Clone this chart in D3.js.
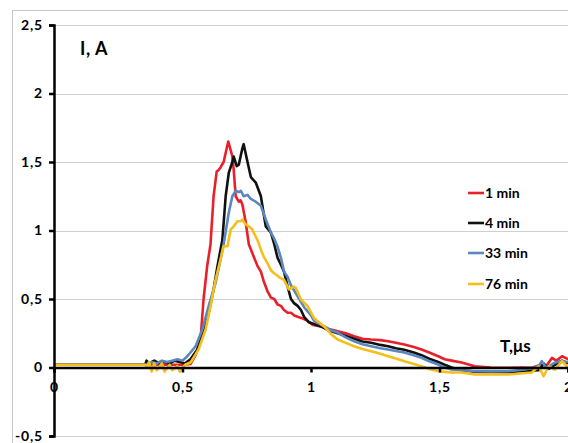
<!DOCTYPE html>
<html><head><meta charset="utf-8">
<script src="https://cdn.jsdelivr.net/npm/d3@7"></script>
<style>
html,body{margin:0;padding:0;background:#fff;}
svg{display:block;}
text{font-family:Lato,"Open Sans",sans-serif;font-weight:700;fill:#000;}
</style></head>
<body>
<svg id="c" width="568" height="443"></svg>
<script>
const xTicks = [0, 0.5, 1, 1.5, 2];
const xTickLabels = ["0", "0,5", "1", "1,5", "2"];
const yTicks = [-0.5, 0, 0.5, 1, 1.5, 2, 2.5];
const yTickLabels = ["-0,5", "0", "0,5", "1", "1,5", "2", "2,5"];
const seriesNames = ["1 min", "4 min", "33 min", "76 min"];
const seriesColors = ["#e8202a", "#111111", "#5b87be", "#f5bf1a"];

const red = [[0,0.02],[0.2,0.02],[0.4,0.02],[0.5,0.02],[0.531,0.025],[0.551,0.09],[0.570,0.20],[0.582,0.50],[0.596,0.74],[0.609,0.90],[0.621,1.25],[0.633,1.43],[0.640,1.44],[0.648,1.46],[0.660,1.50],[0.678,1.65],[0.694,1.54],[0.699,1.45],[0.707,1.25],[0.719,1.21],[0.726,1.22],[0.733,1.19],[0.746,1.06],[0.758,0.90],[0.775,0.82],[0.792,0.74],[0.805,0.70],[0.816,0.63],[0.830,0.56],[0.844,0.51],[0.857,0.50],[0.870,0.46],[0.883,0.45],[0.895,0.42],[0.909,0.40],[0.922,0.40],[0.935,0.38],[0.948,0.37],[0.965,0.36],[0.987,0.34],[1.007,0.31],[1.039,0.30],[1.07,0.28],[1.104,0.265],[1.135,0.25],[1.168,0.228],[1.20,0.21],[1.234,0.204],[1.27,0.20],[1.300,0.192],[1.33,0.18],[1.363,0.168],[1.40,0.15],[1.430,0.131],[1.46,0.11],[1.495,0.082],[1.52,0.06],[1.547,0.05],[1.586,0.036],[1.637,0.009],[1.70,0.0],[1.768,-0.002],[1.82,0.0],[1.859,-0.002],[1.898,0.022],[1.915,0.01],[1.9375,0.07],[1.955,0.05],[1.977,0.082],[2.004,0.058]];

const black = [[0,0.02],[0.2,0.02],[0.355,0.02],[0.36,0.05],[0.37,0.03],[0.39,0.05],[0.41,0.03],[0.43,0.04],[0.45,0.03],[0.47,0.05],[0.49,0.04],[0.51,0.03],[0.531,0.06],[0.557,0.13],[0.582,0.255],[0.602,0.40],[0.621,0.57],[0.636,0.74],[0.655,0.93],[0.668,1.25],[0.680,1.42],[0.694,1.50],[0.699,1.54],[0.711,1.47],[0.719,1.48],[0.733,1.60],[0.738,1.63],[0.753,1.50],[0.766,1.39],[0.785,1.35],[0.805,1.25],[0.816,1.12],[0.824,1.03],[0.844,0.985],[0.857,0.90],[0.870,0.80],[0.883,0.75],[0.895,0.70],[0.909,0.59],[0.922,0.50],[0.934,0.47],[0.948,0.45],[0.961,0.42],[0.973,0.37],[0.992,0.33],[1.039,0.30],[1.07,0.27],[1.104,0.25],[1.135,0.23],[1.168,0.21],[1.20,0.19],[1.234,0.18],[1.27,0.165],[1.300,0.155],[1.33,0.14],[1.363,0.13],[1.40,0.11],[1.430,0.09],[1.46,0.065],[1.495,0.04],[1.52,0.02],[1.547,0.0],[1.586,-0.02],[1.637,-0.03],[1.70,-0.035],[1.768,-0.035],[1.832,-0.025],[1.886,-0.02],[1.905,0.03],[1.925,-0.01],[1.949,0.02],[1.977,0.05],[2.0,0.03]];

const blue = [[0,0.02],[0.2,0.02],[0.36,0.02],[0.38,0.04],[0.40,0.03],[0.42,0.05],[0.44,0.04],[0.46,0.05],[0.48,0.06],[0.50,0.05],[0.518,0.08],[0.551,0.155],[0.577,0.277],[0.602,0.45],[0.629,0.62],[0.648,0.788],[0.660,0.90],[0.680,1.13],[0.694,1.25],[0.707,1.29],[0.719,1.28],[0.727,1.29],[0.738,1.25],[0.753,1.26],[0.766,1.23],[0.785,1.21],[0.805,1.18],[0.824,1.08],[0.844,0.985],[0.857,0.94],[0.870,0.88],[0.883,0.80],[0.895,0.70],[0.909,0.66],[0.922,0.60],[0.935,0.56],[0.948,0.52],[0.961,0.48],[0.973,0.44],[1.0,0.38],[1.012,0.34],[1.051,0.30],[1.08,0.27],[1.104,0.255],[1.135,0.22],[1.168,0.192],[1.20,0.17],[1.234,0.155],[1.27,0.14],[1.300,0.131],[1.33,0.12],[1.363,0.109],[1.40,0.09],[1.430,0.071],[1.46,0.045],[1.495,0.022],[1.52,0.0],[1.547,-0.015],[1.586,-0.02],[1.637,-0.027],[1.70,-0.028],[1.768,-0.027],[1.832,-0.015],[1.886,0.009],[1.898,0.046],[1.915,0.0],[1.925,0.009],[1.949,0.036],[1.977,0.046],[2.0,0.04]];

const yellow = [[0,0.02],[0.2,0.02],[0.355,0.02],[0.36,0.0],[0.37,0.04],[0.38,-0.03],[0.39,0.03],[0.40,-0.02],[0.42,0.03],[0.43,-0.03],[0.45,0.02],[0.46,-0.02],[0.48,0.01],[0.49,-0.03],[0.51,0.02],[0.531,0.036],[0.5625,0.131],[0.590,0.277],[0.609,0.447],[0.629,0.642],[0.648,0.788],[0.660,0.885],[0.675,0.885],[0.6875,1.007],[0.699,1.03],[0.714,1.068],[0.727,1.068],[0.733,1.08],[0.746,1.044],[0.758,1.031],[0.772,1.007],[0.777,0.985],[0.792,0.93],[0.805,0.86],[0.816,0.81],[0.831,0.76],[0.844,0.71],[0.855,0.69],[0.870,0.67],[0.875,0.66],[0.895,0.64],[0.914,0.57],[0.934,0.59],[0.941,0.58],[0.961,0.496],[0.987,0.447],[1.012,0.36],[1.051,0.30],[1.08,0.24],[1.104,0.204],[1.135,0.18],[1.168,0.155],[1.20,0.135],[1.234,0.119],[1.27,0.10],[1.300,0.082],[1.33,0.065],[1.363,0.046],[1.40,0.025],[1.430,0.009],[1.46,-0.01],[1.495,-0.027],[1.547,-0.036],[1.586,-0.036],[1.637,-0.051],[1.70,-0.05],[1.768,-0.051],[1.859,-0.036],[1.886,0.009],[1.905,-0.064],[1.925,0.009],[1.949,-0.015],[1.977,0.046],[2.0,0.0]];

const seriesData = [red, black, blue, yellow];

const svg = d3.select("#c");
const x = d3.scaleLinear().domain([0, 2]).range([54, 568]);
const y = d3.scaleLinear().domain([-0.5, 2.5]).range([436, 25]);

// outer frame
svg.append("rect").attr("x", 12.5).attr("y", 10.5).attr("width", 600).attr("height", 500)
  .attr("fill", "#fff").attr("stroke", "#c8c8c8").attr("stroke-width", 1);

// gridlines
svg.append("g").selectAll("line").data(yTicks).join("line")
  .attr("x1", x(0)).attr("x2", 568)
  .attr("y1", d => Math.round(y(d)) + 0.5).attr("y2", d => Math.round(y(d)) + 0.5)
  .attr("stroke", "#cfcfcf").attr("stroke-width", 1);

// series
const line = d3.line().x(d => x(d[0])).y(d => y(d[1]));
const plot = svg.append("g");
seriesData.forEach((s, i) => {
  plot.append("path").datum(s).attr("d", line)
    .attr("fill", "none").attr("stroke", seriesColors[i])
    .attr("stroke-width", 2.6).attr("stroke-linejoin", "round");
});

// y axis
const yAxis = d3.axisLeft(y).tickValues(yTicks).tickFormat((d, i) => yTickLabels[i]).tickSize(5).tickPadding(6);
const gy = svg.append("g").attr("transform", `translate(${x(0)},0)`).call(yAxis);
gy.select(".domain").attr("stroke", "#000").attr("stroke-width", 2.5);
gy.selectAll(".tick line").attr("stroke", "#000").attr("stroke-width", 2.5);
gy.selectAll("text").style("font-size", "14px").style("font-family", "Lato, sans-serif").style("font-weight", "700").style("letter-spacing", "0.8px");

// x axis
const xAxis = d3.axisBottom(x).tickValues(xTicks).tickFormat((d, i) => xTickLabels[i]).tickSize(5).tickPadding(10);
const gx = svg.append("g").attr("transform", `translate(0,${y(0)})`).call(xAxis);
gx.select(".domain").attr("stroke", "#000").attr("stroke-width", 2.5);
gx.selectAll(".tick line").attr("stroke", "#000").attr("stroke-width", 2.5);
gx.selectAll("text").style("font-size", "14px").style("font-family", "Lato, sans-serif").style("font-weight", "700").style("letter-spacing", "0.8px");

// axis titles
svg.append("text").attr("x", 80).attr("y", 55).style("font-size", "18px").style("letter-spacing", "0.6px").text("I, A");
svg.append("text").attr("x", 500).attr("y", 352).style("font-size", "17px").text("T,μs");

// legend
const legendY = [193, 223, 253, 284];
const lg = svg.append("g");
seriesNames.forEach((n, i) => {
  lg.append("line").attr("x1", 468).attr("x2", 484).attr("y1", legendY[i]).attr("y2", legendY[i])
    .attr("stroke", seriesColors[i]).attr("stroke-width", 2.6);
  lg.append("text").attr("x", 485).attr("y", legendY[i] + 5).style("font-size", "14px").text(n);
});
</script>
</body></html>
